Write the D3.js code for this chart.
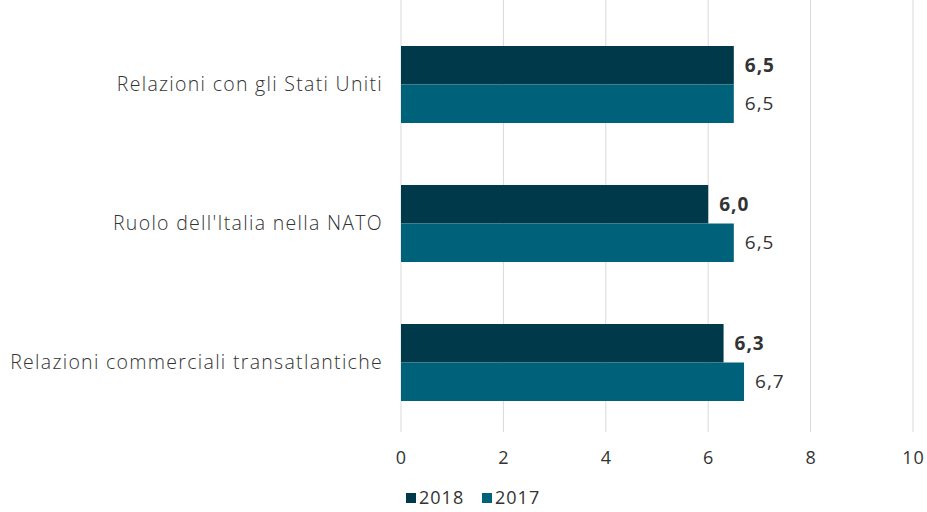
<!DOCTYPE html>
<html>
<head>
<meta charset="utf-8">
<script src="https://cdn.jsdelivr.net/npm/d3@7"></script>
<style>
  body { margin: 0; background: #fff; overflow: hidden; }
  svg text { font-family: "Open Sans", Lato, sans-serif; fill: #333; letter-spacing: 1px; }
</style>
</head>
<body>
<div id="chart"></div>
<script>
// Chart data
const categories = ['Relazioni con gli Stati Uniti', "Ruolo dell'Italia nella NATO", 'Relazioni commerciali transatlantiche'];
const series = ['2018', '2017'];
const values2018 = [6.5, 6.0, 6.3];
const values2017 = [6.5, 6.5, 6.7];
const xTicks = [0, 2, 4, 6, 8, 10];

const colors = { '2018': '#003a4a', '2017': '#00627a' };

const width = 927, height = 512;
const svg = d3.select('#chart').append('svg')
    .attr('width', width)
    .attr('height', height)
    .style('display', 'block');

const x = d3.scaleLinear().domain([0, 10]).range([401, 913]);
const y = d3.scaleBand().domain(categories).range([15, 432]).paddingInner(0.446).paddingOuter(0.223);
const ySub = d3.scaleBand().domain(series).range([0, y.bandwidth()]);

const fmt = v => d3.format('.1f')(v).replace('.', ',');

// Gridlines
svg.append('g').selectAll('line')
    .data(xTicks)
    .enter().append('line')
    .attr('x1', d => x(d)).attr('x2', d => x(d))
    .attr('y1', 0).attr('y2', 432)
    .attr('stroke', '#d9d9d9')
    .attr('stroke-width', 1);

// Axis labels
const xAxis = d3.axisBottom(x).tickValues(xTicks).tickSize(0).tickPadding(0).tickFormat(d3.format('d'));
const ax = svg.append('g').attr('transform', 'translate(0,448)').call(xAxis);
ax.select('.domain').remove();
ax.selectAll('text').attr('font-size', 18).attr('dy', '0.9em')
    .style('font-family', '"Open Sans", sans-serif').attr('fill', '#333');

// Bars
const rows = categories.map((c, i) => ({ cat: c, vals: [
    { s: '2018', v: values2018[i] },
    { s: '2017', v: values2017[i] }
]}));

const g = svg.selectAll('.grp').data(rows).enter().append('g')
    .attr('transform', d => `translate(0,${y(d.cat)})`);

g.selectAll('rect').data(d => d.vals).enter().append('rect')
    .attr('x', x(0))
    .attr('y', d => ySub(d.s))
    .attr('width', d => x(d.v) - x(0))
    .attr('height', ySub.bandwidth())
    .attr('fill', d => colors[d.s]);

g.selectAll('.val').data(d => d.vals).enter().append('text')
    .attr('x', d => x(d.v) + 11)
    .attr('y', d => ySub(d.s) + ySub.bandwidth() / 2)
    .attr('dy', '0.35em')
    .attr('font-size', 19)
    .attr('font-weight', d => d.s === '2018' ? 'bold' : 'normal')
    .attr('fill', d => d.s === '2018' ? '#111' : '#444')
    .text(d => fmt(d.v));

// Category labels
svg.selectAll('.cat').data(categories).enter().append('text')
    .attr('x', 383)
    .attr('y', d => y(d) + y.bandwidth() / 2)
    .attr('dy', '0.35em')
    .attr('text-anchor', 'end')
    .attr('font-size', 19.5)
    .attr('font-weight', 300)
    .style('letter-spacing', '1.3px')
    .text(d => d);

// Legend
const legend = svg.append('g').attr('transform', 'translate(406,498)');
const li = legend.selectAll('g').data(series).enter().append('g')
    .attr('transform', (d, i) => `translate(${i * 76},0)`);
li.append('rect').attr('x', 0).attr('y', -5).attr('width', 10).attr('height', 10).attr('fill', d => colors[d]);
li.append('text').attr('x', 13).attr('y', 0).attr('dy', '0.35em').attr('font-size', 18).text(d => d);
</script>
</body>
</html>
